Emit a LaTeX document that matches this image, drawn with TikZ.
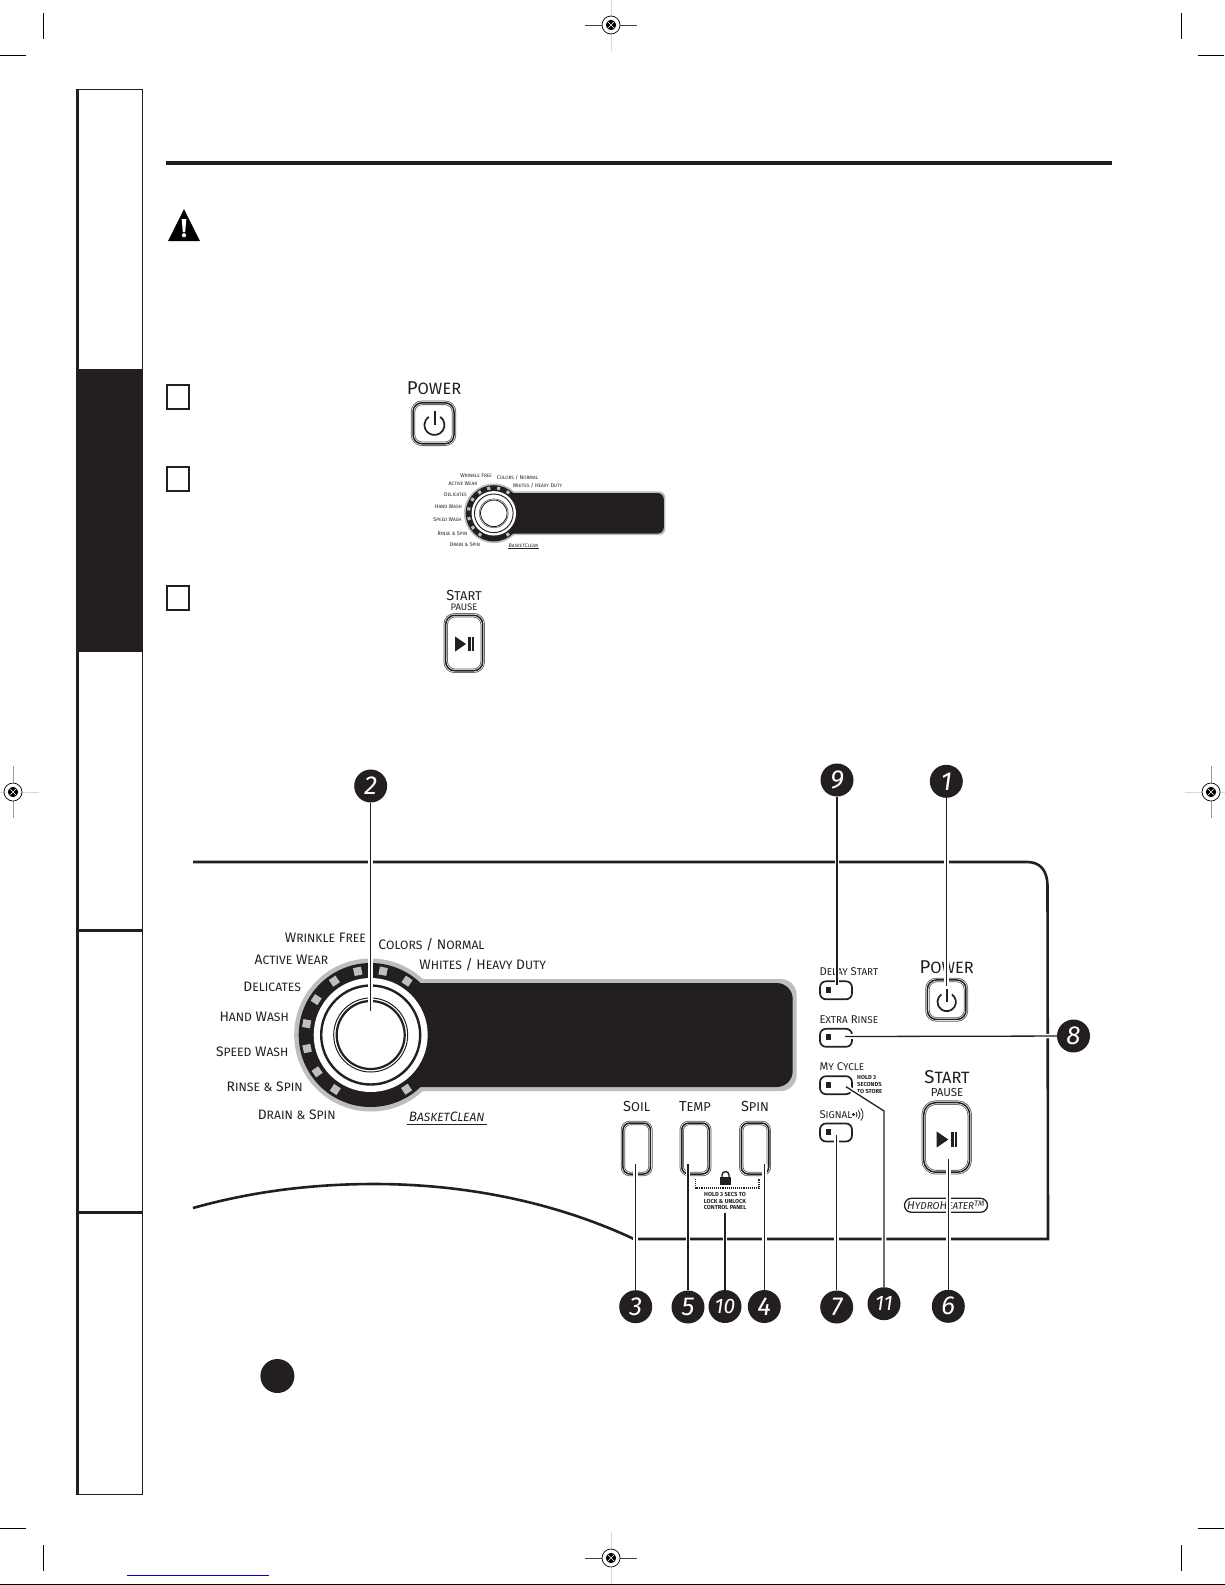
\documentclass[tikz,border=0pt]{standalone}
\usepackage{fontspec}
\setmainfont{Fira Sans}
\definecolor{inkblack}{HTML}{231F20}
\definecolor{ledgray}{HTML}{BCBEC0}
\newcommand{\smtxt}[1]{\scalebox{.88}{#1}}
\newcommand{\dialpanel}[5]{%
\begin{scope}[shift={(#2,#3)},scale=#4,transform shape]
\pgfmathsetmacro{\crad}{16*#4}
\fill [ledgray, rounded corners=\crad pt] (0,-56) rectangle (#5,56);
\fill [ledgray] (0,0) circle (76.5);
\fill [inkblack] (0,0) circle (72);
\fill [inkblack, rounded corners=\crad pt] (0,-52) rectangle (#5-4,52);
\foreach \ledang in {79,56,101.5,124,147,170,192,214.5,237,-56.5}
  \node [ledsq, rotate=\ledang] at (-\ledang:65) {};
\fill [white] (0,0) circle (57);
\draw [inkblack, line width=#4*2.4pt] (0,0) circle (49.5);
\draw [inkblack, line width=#4*1pt] (0,0) circle (37);
\draw [inkblack, line width=#4*2.2pt] (0,0) circle (34);
\foreach \nm/\lx/\ly/\txt in {wr/-45.3/-97.7/{W\smtxt{RINKLE} F\smtxt{REE}}, co/60.8/-90.7/{C\smtxt{OLORS} / N\smtxt{ORMAL}}, ac/-79.2/-75/{A\smtxt{CTIVE} W\smtxt{EAR}}, wh/112/-70.7/{W\smtxt{HITES} / H\smtxt{EAVY} D\smtxt{UTY}}, de/-98.5/-48.3/{D\smtxt{ELICATES}}, ha/-116.5/-17.7/{H\smtxt{AND} W\smtxt{ASH}}, sp/-118.5/16.7/{S\smtxt{PEED} W\smtxt{ASH}}, ri/-106/52/{R\smtxt{INSE} \smtxt{\&} S\smtxt{PIN}}, dr/-74/80/{D\smtxt{RAIN} \smtxt{\&} S\smtxt{PIN}}}
  \node (#1\nm) [dialtxt] at (\lx,\ly) {\txt};
\node (#1ba) [dialtxt, font=\fontsize{13.6}{14}\selectfont\itshape] at (76,82) {B\smtxt{ASKET}C\smtxt{LEAN}};
\draw [inkblack, line width=#4*1.1pt] (36,89.3) -- (116,89.3);
\end{scope}}
\newcommand{\powerglyph}[3]{%
\draw [inkblack, line width=1.7pt] (#1+#3*.57,#2-#3*.82) arc (55:-235:#3 pt);
\draw [inkblack, line width=2pt] (#1,#2-#3*1.4) -- (#1,#2);}
\newcommand{\playglyph}[3]{%
\fill [inkblack] (#1-10*#3,#2-8*#3) -- (#1+1.6*#3,#2) -- (#1-10*#3,#2+8*#3) -- cycle;
\fill [inkblack] (#1+4*#3,#2-7.5*#3) rectangle (#1+7*#3,#2+7.5*#3);
\fill [inkblack] (#1+8*#3,#2-7.5*#3) rectangle (#1+10.5*#3,#2+7.5*#3);}
\newcommand{\regmark}[4]{%
\draw [#3, line width=.9pt] (#1-26,#2) -- (#1+26,#2);
\draw [#4, line width=.9pt] (#1,#2-26) -- (#1,#2+26);
\fill [white] (#1,#2) circle (9);
\draw [black, line width=.7pt] (#1,#2) circle (9);
\fill [black] (#1,#2) circle (5.2);
\draw [white, line width=.6pt] (#1-3.6,#2-3.6) -- (#1+3.6,#2+3.6) (#1-3.6,#2+3.6) -- (#1+3.6,#2-3.6);}
\begin{document}
\begin{tikzpicture}[x=1pt,y=-1pt]
\tikzstyle{dialtxt} = [inner sep=0, text=inkblack, font=\fontsize{13.8}{14}\selectfont]
\tikzstyle{keytxt} = [inner sep=0, text=inkblack, font=\fontsize{11.3}{12}\selectfont]
\tikzstyle{headtxt} = [inner sep=0, text=inkblack, font=\fontsize{14.6}{15}\selectfont]
\tikzstyle{bigtxt} = [inner sep=0, text=inkblack, font=\fontsize{18.6}{19}\selectfont]
\tikzstyle{tinytxt} = [inner sep=0, text=inkblack, align=center, font=\fontsize{5.8}{6.9}\selectfont\bfseries]
\tikzstyle{softkey} = [rectangle, rounded corners=7pt, inner sep=0, draw=inkblack, line width=1.5pt, preaction={draw=black!65, line width=4.4pt}, preaction={draw=white, line width=2.8pt}]
\tikzstyle{ledkey} = [rectangle, rounded corners=6pt, inner sep=0, minimum width=32pt, minimum height=18pt, draw=inkblack, line width=1.7pt]
\tikzstyle{ledsq} = [rectangle, inner sep=0, minimum size=8pt, fill=ledgray]
\tikzstyle{stepbox} = [rectangle, inner sep=0, minimum width=22pt, minimum height=24pt, draw=inkblack, line width=2pt]
\tikzstyle{callnum} = [circle, inner sep=0, minimum size=33pt, fill=inkblack, text=white, font=\fontsize{26}{26}\selectfont\itshape]
\tikzstyle{leader} = [draw=inkblack, line width=1.3pt, preaction={draw=white, line width=4.6pt}]
\useasboundingbox (0,0) rectangle (1225,1585);
% crop marks
\draw [black, line width=1pt] (43.5,13) -- (43.5,39) (0,55.5) -- (26,55.5) (1181,13) -- (1181,39) (1198,55.5) -- (1224,55.5);
\draw [black, line width=1pt] (0,1528) -- (26,1528) (43.5,1545) -- (43.5,1571) (1198,1528) -- (1224,1528) (1181,1545) -- (1181,1571);
\regmark{611}{25}{black!75}{black!15}
\regmark{611}{1558}{black!75}{black!15}
\regmark{13}{792}{black!15}{black!40}
\regmark{1211}{792}{black!15}{black!40}
\draw [blue!85!black, line width=1pt] (127,1575) -- (269,1575);
\draw [black, line width=1pt] (0,1584.4) -- (1225,1584.4);
% side tabs
\fill [inkblack] (77,369) rectangle (142.5,652);
\draw [inkblack, line width=1.5pt] (77,89.5) -- (142.5,89.5) -- (142.5,1494.5) -- (77,1494.5);
\draw [inkblack, line width=3pt] (77.5,88.8) -- (77.5,1495.2);
\draw [inkblack, line width=3pt] (77,930) -- (142.5,930) (77,1212) -- (142.5,1212);
% heading and warning
\fill [inkblack] (166,160.8) rectangle (1112,165);
\fill [black] (184,209) -- (200,241) -- (168,241) -- cycle;
\fill [white] (181.7,219) -- (186.3,219) -- (185.2,232) -- (182.8,232) -- cycle;
\fill [white] (184,235.2) circle (2.1);
% steps
\node (stepa) [stepbox] at (178.3,396.7) {};
\node (stepb) [stepbox] at (178.3,479.2) {};
\node (stepc) [stepbox] at (178.3,597.8) {};
\node (minipower) [bigtxt] at (434,388) {P\smtxt{OWER}};
\node (minipowerkey) [softkey, rounded corners=9pt, minimum width=41pt, minimum height=41pt] at (433.5,423.3) {};
\powerglyph{434.5}{425}{10}
\dialpanel{mini}{493.8}{513.3}{.39}{440}
\node (ministart) [headtxt] at (464,595.5) {S\smtxt{TART}};
\node (minipause) [keytxt, font=\fontsize{9.5}{10}\selectfont] at (464,607) {PAUSE};
\node (ministartkey) [softkey, rounded corners=9pt, minimum width=37pt, minimum height=55.5pt] at (464.2,643) {};
\playglyph{464.5}{644}{.95}
% control panel
\draw [inkblack, line width=2.6pt] (193,862) -- (1027,862) .. controls (1040,862) and (1047,870) .. (1047.5,885) -- (1048,1239) -- (634,1239) .. controls (555,1202) and (465,1184) .. (374,1184) .. controls (310,1184) and (250,1192) .. (193,1208);
\dialpanel{big}{370.7}{1035}{1}{426}
\node (soil) [softkey, minimum width=27.5pt, minimum height=51pt] at (636.7,1148.5) {};
\node (temp) [softkey, minimum width=27.5pt, minimum height=51pt] at (695.5,1148.5) {};
\node (spin) [softkey, minimum width=27.5pt, minimum height=51pt] at (755,1148.5) {};
\node (soiltxt) [headtxt] at (636.7,1106.5) {S\smtxt{OIL}};
\node (temptxt) [headtxt] at (695,1106.5) {T\smtxt{EMP}};
\node (spintxt) [headtxt] at (755,1106.5) {S\smtxt{PIN}};
\fill [inkblack] (720,1176.5) rectangle (731,1184.5);
\draw [inkblack, line width=1.4pt] (722,1177) -- (722,1175) arc (180:0:3.5pt) -- (729,1177);
\draw [inkblack, line width=1.1pt, densely dotted] (695.7,1179) -- (695.7,1188) -- (759,1188) -- (759,1179);
\node (locktxt) [tinytxt] at (725,1201) {HOLD 3 SECS TO\\LOCK \& UNLOCK\\CONTROL PANEL};
\node (delaytxt) [keytxt, anchor=west] at (819.3,972) {D\smtxt{ELAY} S\smtxt{TART}};
\node (rinsetxt) [keytxt, anchor=west] at (819.3,1019.7) {E\smtxt{XTRA} R\smtxt{INSE}};
\node (cycletxt) [keytxt, anchor=west] at (819.3,1066.7) {M\smtxt{Y} C\smtxt{YCLE}};
\node (signaltxt) [keytxt, anchor=west] at (819.3,1114.3) {S\smtxt{IGNAL}};
\fill [inkblack] (853.5,1114.5) circle (1.6);
\draw [inkblack, line width=.8pt] (853.5,1114.5) ++(40:3.5) arc (-40:40:3.5pt);
\draw [inkblack, line width=.8pt] (853.5,1114.5) ++(40:6.5) arc (-40:40:6.5pt);
\draw [inkblack, line width=.8pt] (853.5,1114.5) ++(40:9.5) arc (-40:40:9.5pt);
\node (delaykey) [ledkey] at (836,990.3) {};
\node (rinsekey) [ledkey] at (836,1037.8) {};
\node (cyclekey) [ledkey] at (836,1085.2) {};
\node (signalkey) [ledkey] at (836,1132.5) {};
\foreach \ledy in {990,1037,1085,1132}
  \fill [inkblack] (825.7,\ledy-2.6) rectangle (831,\ledy+2.6);
\node (storetxt) [tinytxt, align=left, anchor=west] at (857,1084.3) {HOLD 3\\SECONDS\\TO STORE};
\node (powertxt) [bigtxt] at (946.7,966.7) {P\smtxt{OWER}};
\node (powerkey) [softkey, rounded corners=9pt, minimum width=38.5pt, minimum height=39.5pt] at (946.7,999.7) {};
\powerglyph{946.7}{1002}{9.2}
\node (starttxt) [bigtxt] at (947,1077.5) {S\smtxt{TART}};
\node (pausetxt) [keytxt, font=\fontsize{11.5}{12}\selectfont] at (947,1092.7) {PAUSE};
\node (startkey) [softkey, rounded corners=12pt, minimum width=46pt, minimum height=69.5pt] at (946.7,1137.4) {};
\playglyph{946.7}{1139.5}{1}
\node (hydro) [rectangle, rounded corners=7pt, inner sep=0, minimum width=83pt, minimum height=14pt, draw=inkblack, line width=1.3pt, text=inkblack, font=\fontsize{11.4}{12}\selectfont\itshape] at (946,1205.3) {H\smtxt{YDRO}H\smtxt{EATER}\textsuperscript{TM}};
% callouts
\node (n1) [callnum] at (946.3,781.3) {1};
\node (n2) [callnum] at (370.7,786) {2};
\node (n3) [callnum] at (635.7,1306.7) {3};
\node (n4) [callnum] at (764.3,1306.5) {4};
\node (n5) [callnum] at (688,1307) {5};
\node (n6) [callnum] at (948.3,1306.3) {6};
\node (n7) [callnum] at (836.7,1307) {7};
\node (n8) [callnum] at (1073.5,1036) {8};
\node (n9) [callnum] at (837,780) {9};
\node (n10) [callnum, font=\fontsize{21}{21}\selectfont\itshape] at (725,1306.5) {10};
\node (n11) [callnum, font=\fontsize{21}{21}\selectfont\itshape] at (884,1303.7) {11};
\coordinate (e1) at (946.3,986);
\coordinate (e2) at (370.7,1011);
\coordinate (e3) at (635.7,1164);
\coordinate (e4) at (764.3,1164);
\coordinate (e5) at (688,1164);
\coordinate (e6) at (948.3,1159.3);
\coordinate (e7) at (836.7,1135);
\coordinate (e8) at (845,1036.5);
\coordinate (e9) at (837,985);
\coordinate (e10) at (725,1213);
\coordinate (e11) at (846,1086.7);
\coordinate (b11) at (884,1111);
\foreach \a/\b in {n1/e1,n2/e2,n3/e3,n4/e4,n5/e5,n6/e6,n7/e7,n8/e8,n9/e9,n10/e10}
  \draw [leader] (\a) -- (\b);
\draw [leader] (n11) -- (b11) -- (e11);
\node (bullet) [circle, inner sep=0, minimum size=34pt, fill=inkblack] at (277.4,1376) {};
\end{tikzpicture}
\end{document}
